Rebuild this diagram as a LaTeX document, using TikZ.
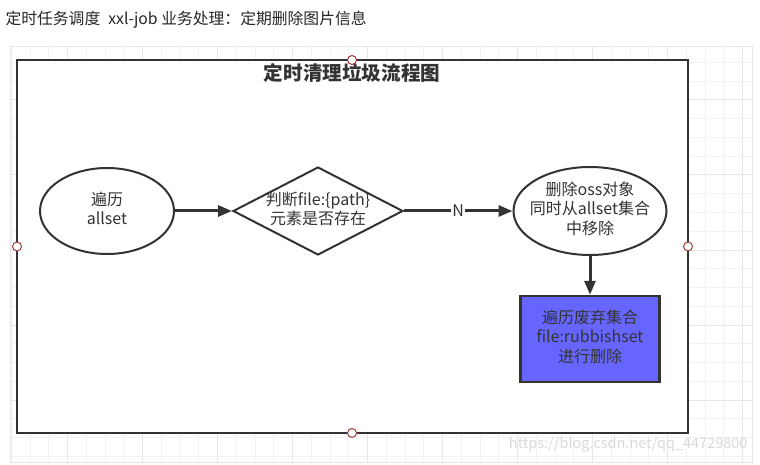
\documentclass[tikz,border=0pt]{standalone}
\usepackage{fontspec}
\setmainfont{Noto Sans CJK SC}
\usetikzlibrary{shapes.geometric,arrows.meta}

\definecolor{linegray}{HTML}{333333}
\definecolor{textgray}{HTML}{333333}
\definecolor{rubblue}{HTML}{6666FF}
\definecolor{handlered}{HTML}{A33B3B}
\definecolor{gridminor}{HTML}{F2F2F2}
\definecolor{gridmajor}{HTML}{E6E6E6}
\definecolor{wmgray}{HTML}{DADADA}

\newcommand{\flowtxt}[1]{\makebox[0pt]{\begin{tabular}{@{}c@{}}#1\end{tabular}}}

\tikzset{
  flow/.style={draw=linegray,line width=2pt,fill=white,inner sep=0pt,text=textgray,
    font=\fontsize{16}{19.5}\selectfont},
  term/.style={flow,ellipse},
  decision/.style={flow,diamond},
  job/.style={flow,rectangle,fill=rubblue,line width=2.5pt},
  arr/.style={draw=linegray,line width=3pt,-{Triangle[length=14pt,width=11pt]}},
  handle/.style={draw=handlered,fill=white,line width=1pt},
}

\begin{document}
\begin{tikzpicture}[x=1pt,y=-1pt]
\useasboundingbox (0,0) rectangle (760,465);
\fill[white] (0,0) rectangle (760,465);

% grid
\foreach \k in {0,...,39}
  \draw[gridminor,line width=1pt] (11.45+18.75*\k,47) -- (11.45+18.75*\k,462);
\foreach \j in {-2,...,19}
  \draw[gridminor,line width=1pt] (10,100+18.75*\j) -- (752,100+18.75*\j);
\foreach \k in {3,7,...,39}
  \draw[gridmajor,line width=1pt] (11.45+18.75*\k,47) -- (11.45+18.75*\k,462);
\foreach \j in {0,4,...,16}
  \draw[gridmajor,line width=1pt] (10,100+18.75*\j) -- (752,100+18.75*\j);
\draw[gridmajor,line width=1pt] (10,47) rectangle (752,462);

\node[anchor=west,font=\fontsize{15.8}{15.8}\selectfont,text=black!85] (head) at (2,20)
  {定时任务调度\hspace{8pt}xxl-job 业务处理：定期删除图片信息};

% frame
\draw[draw=linegray,fill=white,line width=2pt] (17,60) rectangle (688,433);
\node[font=\fontsize{19.6}{19.6}\selectfont\bfseries,text=textgray] (title) at (352,73) {定时清理垃圾流程图};

\node[term,minimum width=134pt,minimum height=86pt] (all) at (107,211) {\flowtxt{遍历\\allset}};
\node[decision,minimum width=170pt,minimum height=88pt] (chk) at (318,211) {\flowtxt{判断file:\{path\}\\元素是否存在}};
\node[term,minimum width=153pt,minimum height=88pt] (oss) at (590,211) {\flowtxt{删除oss对象\\同时从allset集合\\中移除}};
\node[job,minimum width=139pt,minimum height=86pt] (rub) at (590,339) {\flowtxt{遍历废弃集合\\file:rubbishset\\进行删除}};

\draw[arr] (all.east) -- (chk.west);
\draw[arr] (chk.east) -- node[fill=white,inner sep=1pt,text=textgray,font=\fontsize{16}{16}\selectfont] (n) {N} (oss.west);
\draw[arr] (oss.south) -- (rub.north);

% selection handles
\foreach \hx/\hy in {352/60,17/246.5,688/246.5,352/433}
  \draw[handle] (\hx,\hy) circle (4.5pt);

\node[anchor=east,font=\fontsize{14.5}{14.5}\selectfont,text=wmgray] (mark) at (751,445)
  {https://blog.csdn.net/qq\_44729800};
\end{tikzpicture}
\end{document}
